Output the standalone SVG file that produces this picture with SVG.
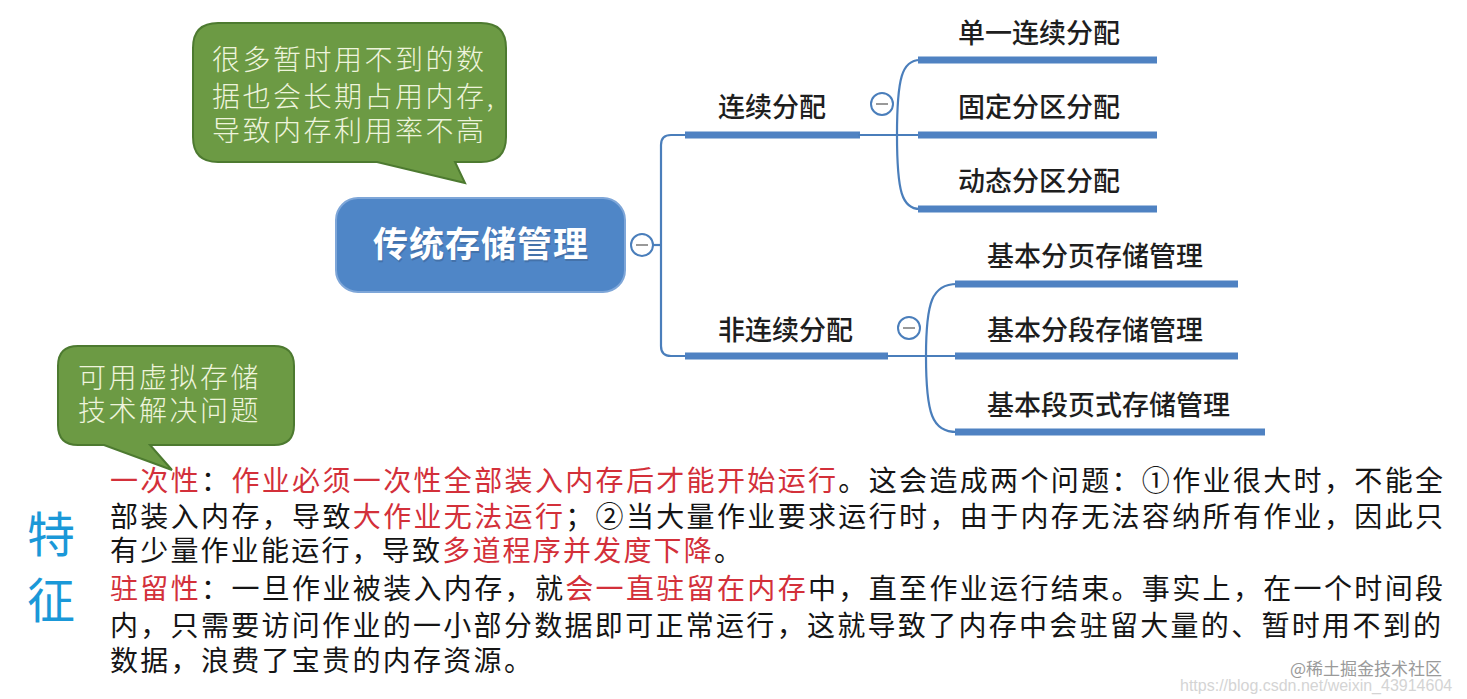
<svg xmlns="http://www.w3.org/2000/svg" width="1467" height="699" viewBox="0 0 1467 699">
<style>
.callout{fill:#6c9a44;stroke:#4d7a30;stroke-width:2}
.ctext{font-family:"Noto Sans CJK SC","Noto Sans",sans-serif;font-weight:300;font-size:28px;fill:#eef4dc;letter-spacing:2.5px}
.lbl{font-family:"Noto Sans CJK SC","Noto Sans",sans-serif;font-weight:500;font-size:27px;fill:#1e1e1e}
.thin{fill:none;stroke:#4a7ebb;stroke-width:2.2}
.bar{stroke:#4f82c2;stroke-width:7;stroke-linecap:butt}
.tog{fill:#fff;stroke:#4a7ebb;stroke-width:2}
.minus{stroke:#999;stroke-width:2}
.body{font-family:"Noto Sans CJK SC","Noto Sans",sans-serif;font-weight:400;font-size:28px;fill:#151515}
.red{fill:#d3303a}
.big{font-family:"Noto Sans CJK SC","Noto Sans",sans-serif;font-size:48px;fill:#1a98d8}
</style>
<rect width="1467" height="699" fill="#fff"/>

<g id="callout-top">
<path class="callout" d="M218,23 H481 Q506,23 506,48 V137 Q506,162 481,162 H455 L465,183 L377,162 H218 Q193,162 193,137 V48 Q193,23 218,23 Z"/>
<text class="ctext" x="212" y="70">很多暂时用不到的数</text>
<text class="ctext" x="212" y="107">据也会长期占用内存,</text>
<text class="ctext" x="212" y="141">导致内存利用率不高</text>
</g>

<g id="callout-bottom">
<path class="callout" d="M78,346 H274 Q294,346 294,366 V425 Q294,445 274,445 H150 L172,470 L104,445 H78 Q58,445 58,425 V366 Q58,346 78,346 Z"/>
<text class="ctext" x="78" y="388">可用虚拟存储</text>
<text class="ctext" x="78" y="421">技术解决问题</text>
</g>

<g id="connectors">
<line class="thin" x1="653" y1="245" x2="661" y2="245"/>
<path class="thin" d="M690,135 H671 Q661,135 661,145 V346 Q661,356 671,356 H690"/>
<line class="bar" x1="685" y1="135" x2="860" y2="135"/>
<line class="bar" x1="685" y1="356" x2="888" y2="356"/>
<line class="thin" x1="858" y1="135" x2="920" y2="135"/>
<path class="thin" d="M897,135 C897,78 902,60 920,60"/>
<path class="thin" d="M897,135 C897,192 902,209 920,209"/>
<line class="bar" x1="918" y1="60" x2="1157" y2="60"/>
<line class="bar" x1="918" y1="135" x2="1157" y2="135"/>
<line class="bar" x1="918" y1="209" x2="1157" y2="209"/>
<line class="thin" x1="886" y1="356" x2="957" y2="356"/>
<path class="thin" d="M926,356 C926,302 932,284 957,284"/>
<path class="thin" d="M926,356 C926,414 932,432 957,432"/>
<line class="bar" x1="955" y1="284" x2="1238" y2="284"/>
<line class="bar" x1="955" y1="356" x2="1238" y2="356"/>
<line class="bar" x1="955" y1="432" x2="1265" y2="432"/>
</g>

<g id="root">
<rect x="336" y="198" width="289" height="94" rx="22" fill="#4f86c7" stroke="#7ea6d8" stroke-width="2"/>
<text x="482" y="259" text-anchor="middle" font-family="'Noto Sans CJK SC','Noto Sans',sans-serif" font-weight="700" font-size="35" letter-spacing="1" fill="#3a5f8f" opacity="0.5">传统存储管理</text>
<text x="481" y="257" text-anchor="middle" font-family="'Noto Sans CJK SC','Noto Sans',sans-serif" font-weight="700" font-size="35" letter-spacing="1" fill="#fff">传统存储管理</text>
<circle class="tog" cx="642" cy="245" r="11"/>
<line class="minus" x1="636" y1="245" x2="648" y2="245"/>
</g>

<g id="n-continuous">
<text class="lbl" x="718" y="117">连续分配</text>
<circle class="tog" cx="882" cy="104" r="11"/>
<line class="minus" x1="876" y1="104" x2="888" y2="104"/>
</g>
<g id="n-single"><text class="lbl" x="958" y="43">单一连续分配</text></g>
<g id="n-fixed"><text class="lbl" x="958" y="117">固定分区分配</text></g>
<g id="n-dynamic"><text class="lbl" x="958" y="191">动态分区分配</text></g>

<g id="n-noncontinuous">
<text class="lbl" x="718" y="340">非连续分配</text>
<circle class="tog" cx="909" cy="328" r="11"/>
<line class="minus" x1="903" y1="328" x2="915" y2="328"/>
</g>
<g id="n-paging"><text class="lbl" x="987" y="266">基本分页存储管理</text></g>
<g id="n-segment"><text class="lbl" x="987" y="340">基本分段存储管理</text></g>
<g id="n-segpage"><text class="lbl" x="987" y="415">基本段页式存储管理</text></g>

<g id="features">
<text class="big" x="27" y="552">特</text>
<text class="big" x="27" y="618">征</text>
<text class="body" x="110" y="491" textLength="1333" lengthAdjust="spacing"><tspan class="red">一次性</tspan>：<tspan class="red">作业必须一次性全部装入内存后才能开始运行</tspan>。这会造成两个问题：①作业很大时，不能全</text>
<text class="body" x="110" y="527" textLength="1333" lengthAdjust="spacing">部装入内存，导致<tspan class="red">大作业无法运行</tspan>；②当大量作业要求运行时，由于内存无法容纳所有作业，因此只</text>
<text class="body" x="110" y="561" letter-spacing="2.2">有少量作业能运行，导致<tspan class="red">多道程序并发度下降</tspan>。</text>
<text class="body" x="110" y="599" textLength="1333" lengthAdjust="spacing"><tspan class="red">驻留性</tspan>：一旦作业被装入内存，就<tspan class="red">会一直驻留在内存</tspan>中，直至作业运行结束。事实上，在一个时间段</text>
<text class="body" x="110" y="636" textLength="1331" lengthAdjust="spacing">内，只需要访问作业的一小部分数据即可正常运行，这就导致了内存中会驻留大量的、暂时用不到的</text>
<text class="body" x="110" y="671" letter-spacing="2.3">数据，浪费了宝贵的内存资源。</text>
</g>

<g id="watermark">
<text x="1180" y="691" font-family="'Liberation Sans',sans-serif" font-size="16" fill="#d4d4d4">https://blog.csdn.net/weixin_43914604</text>
<text x="1290" y="675" font-family="'Noto Sans CJK SC','Noto Sans',sans-serif" font-size="17" fill="#9a9a9a">@稀土掘金技术社区</text>
</g>
</svg>
